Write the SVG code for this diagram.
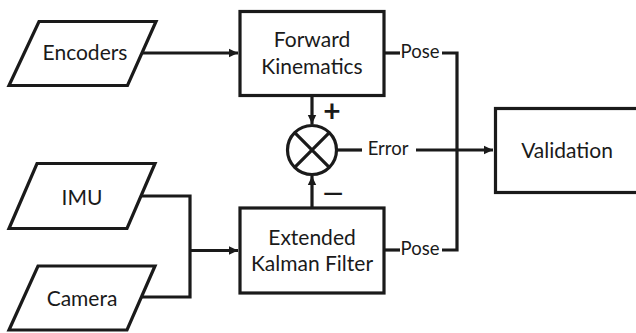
<svg xmlns="http://www.w3.org/2000/svg" width="636" height="333" viewBox="0 0 636 333">
  <style>
    .shape { fill: #ffffff; stroke: #1a1a1a; stroke-width: 3.2; }
    .wire { fill: none; stroke: #1a1a1a; stroke-width: 3.2; }
    .label { font-family: Lato, "Open Sans", sans-serif; font-size: 21px; fill: #1a1a1a; text-anchor: middle; }
    .small { font-family: Lato, "Open Sans", sans-serif; font-size: 18.5px; fill: #1a1a1a; text-anchor: middle; }
    .sign { font-family: Lato, "Open Sans", sans-serif; font-size: 30px; font-weight: bold; fill: #1a1a1a; text-anchor: middle; }
    .dash { font-family: Lato, "Open Sans", sans-serif; font-size: 26px; font-weight: bold; fill: #1a1a1a; text-anchor: middle; }
  </style>
  <defs>
    <marker id="arrow" markerUnits="userSpaceOnUse" markerWidth="10" markerHeight="10" refX="9" refY="5" orient="auto">
      <path d="M0,0.8 L9,5 L0,9.2 Z" fill="#1a1a1a"/>
    </marker>
  </defs>

  <rect width="636" height="333" fill="#ffffff"/>

  <!-- connectors -->
  <g id="connectors">
    <path class="wire" d="M143,53 H238" marker-end="url(#arrow)"/>
    <path class="wire" d="M141,196 H190 V297 H141"/>
    <path class="wire" d="M190,250.5 H238" marker-end="url(#arrow)"/>
    <path class="wire" d="M312,97 V124" marker-end="url(#arrow)"/>
    <path class="wire" d="M312,207 V176" marker-end="url(#arrow)"/>
    <path class="wire" d="M336.5,150 H362"/>
    <path class="wire" d="M416,150 H493" marker-end="url(#arrow)"/>
    <path class="wire" d="M384,53 H400"/>
    <path class="wire" d="M442,53 H457 V250 H442"/>
    <path class="wire" d="M384,250 H400"/>
    <text class="small" x="388" y="155">Error</text>
    <text class="small" x="420" y="58">Pose</text>
    <text class="small" x="420" y="255">Pose</text>
    <text class="sign" x="332" y="122">+</text>
    <text class="dash" x="333" y="202">—</text>
  </g>

  <!-- inputs -->
  <g id="encoders">
    <polygon class="shape" points="39,21.5 156,21.5 127.5,85.5 9,85.5"/>
    <text class="label" x="85" y="60">Encoders</text>
  </g>
  <g id="imu">
    <polygon class="shape" points="37,163.5 155,163.5 127,228.5 9,228.5"/>
    <text class="label" x="82" y="205">IMU</text>
  </g>
  <g id="camera">
    <polygon class="shape" points="38,266 155,266 127,330 9,330"/>
    <text class="label" x="82" y="305.5">Camera</text>
  </g>

  <!-- processing blocks -->
  <g id="forward-kinematics">
    <rect class="shape" x="240" y="11.5" width="144" height="84"/>
    <text class="label" x="312" y="47">Forward</text>
    <text class="label" x="312" y="74">Kinematics</text>
  </g>
  <g id="ekf">
    <rect class="shape" x="240" y="208" width="144" height="85"/>
    <text class="label" x="312" y="245">Extended</text>
    <text class="label" x="312" y="271">Kalman Filter</text>
  </g>

  <!-- comparator -->
  <g id="comparator">
    <circle class="shape" cx="312" cy="150" r="24.5"/>
    <path class="wire" d="M294.7,132.7 L329.3,167.3 M329.3,132.7 L294.7,167.3"/>
  </g>

  <g id="validation">
    <rect class="shape" x="495.5" y="108.5" width="150" height="84"/>
    <text class="label" x="567" y="158">Validation</text>
  </g>
</svg>
